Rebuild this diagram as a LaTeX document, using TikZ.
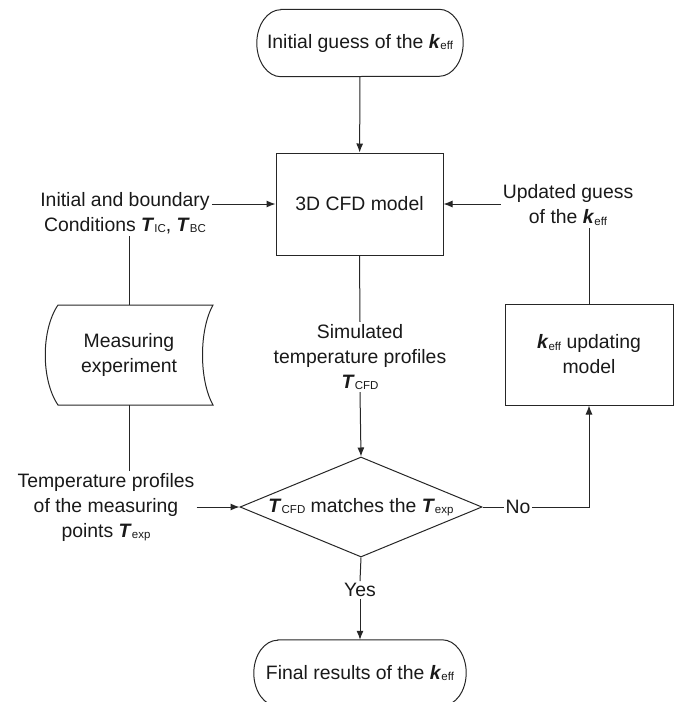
\documentclass[tikz,border=0pt]{standalone}
\usepackage{fontspec}
\setmainfont{Liberation Sans}
\usetikzlibrary{arrows.meta,shapes.geometric}
\newcommand\bk{\textbf{\textit{k}}}
\newcommand\bT{\textbf{\textit{T}}}
\newcommand\sbx[1]{\raisebox{-1.5pt}{\fontsize{11.5}{12}\selectfont #1}}
\begin{document}
\begin{tikzpicture}[x=1pt,y=1pt,
  every node/.style={font=\fontsize{19.4}{25}\selectfont, text=black!90},
  ln/.style={line width=1pt, draw=black!85},
  arr/.style={ln, -{Latex[length=9pt,width=7pt]}},
  term/.style={rectangle, minimum height=67, inner sep=0pt},
  termline/.style={ln},
  box/.style={rectangle, draw, ln, align=center},
  lbl/.style={align=center, inner sep=2pt}]
\useasboundingbox (0,0) rectangle (681,-702);
\clip (0,0) rectangle (681,-702);

\node[term, minimum width=206] (init) at (360,-43) {Initial guess of the \bk\sbx{eff}};
\draw[termline] ([xshift=24pt]init.north west) -- ([xshift=-24pt]init.north east)
  arc[start angle=90, end angle=-90, x radius=24, y radius=33.5]
  -- ([xshift=24pt]init.south west)
  arc[start angle=270, end angle=90, x radius=24, y radius=33.5] -- cycle;
\node[box, minimum width=167, minimum height=102] (cfd) at (359.5,-204) {3D CFD model};
\node[lbl] (ibc) at (125,-213) {Initial and boundary\\Conditions \bT\sbx{IC}, \bT\sbx{BC}};
\node[minimum width=168, minimum height=100, align=center] (meas) at (129,-355) {Measuring\\experiment};
\draw[ln] (58,-305) -- (213,-305) .. controls (199,-330) and (199,-380) .. (213,-405) -- (58,-405) .. controls (41,-380) and (41,-330) .. (58,-305) -- cycle;
\node[lbl] (tp) at (106,-507) {Temperature profiles\\of the measuring\\points \bT\sbx{exp}};
\node[diamond, draw, ln, minimum width=242, minimum height=100, inner sep=0pt, shape aspect=2.42] (dia) at (361,-507) {};
\node (diat) at (dia.center) {\bT\sbx{CFD} matches the \bT\sbx{exp}};
\node[lbl] (sim) at (360,-357) {Simulated\\temperature profiles\\\bT\sbx{CFD}};
\node[inner sep=1.5pt] (no) at (518,-507) {No};
\node[box, minimum width=168, minimum height=101] (upd) at (589,-354.5) {\bk\sbx{eff} updating\\model};
\node[lbl] (ug) at (568,-205) {Updated guess\\of the \bk\sbx{eff}};
\node[inner sep=2pt] (yes) at (360,-590) {Yes};
\node[term, minimum width=212, minimum height=66] (fin) at (360,-673) {Final results of the \bk\sbx{eff}};
\draw[termline] ([xshift=24pt]fin.north west) -- ([xshift=-24pt]fin.north east)
  arc[start angle=90, end angle=-90, x radius=24, y radius=33]
  -- ([xshift=24pt]fin.south west)
  arc[start angle=270, end angle=90, x radius=24, y radius=33] -- cycle;

\draw[arr] (init) -- (cfd);
\draw[arr] (ibc.east |- cfd.west) -- (cfd.west);
\draw[ln] (meas.north) -- (meas.north |- ibc.south);
\draw[ln] (meas.south) -- (meas.south |- tp.north);
\draw[arr] (tp.east |- dia.west) -- (dia.west);
\draw[ln] (cfd.south) -- (sim.north);
\draw[arr] (sim.south) -- (dia.north);
\draw[ln] (dia.east) -- (no.west);
\draw[arr] (no.east) -| (upd.south);
\draw[ln] (upd.north) -- (upd.north |- ug.south);
\draw[arr] (ug.west |- cfd.east) -- (cfd.east);
\draw[ln] (dia.south) -- (yes.north);
\draw[arr] (yes.south) -- (fin.north);
\end{tikzpicture}
\end{document}
